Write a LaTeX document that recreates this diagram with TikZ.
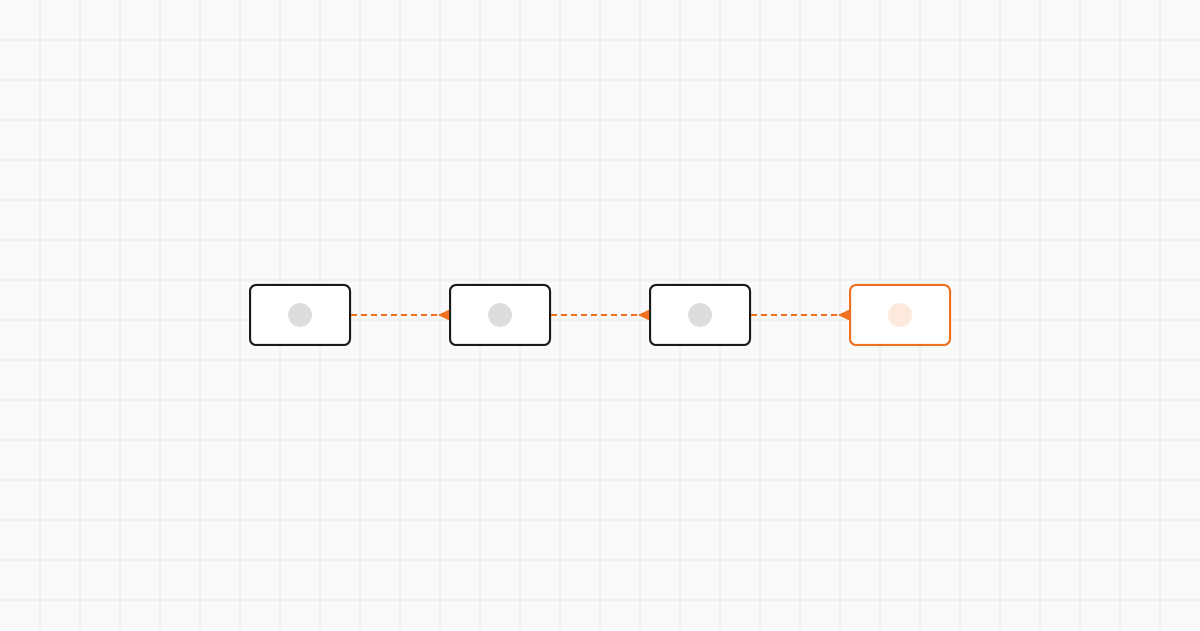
\documentclass[tikz,border=0pt]{standalone}
\usetikzlibrary{arrows.meta}
\definecolor{bg}{HTML}{F9F9F9}
\definecolor{gridc}{HTML}{F0F0F0}
\definecolor{ink}{HTML}{1A1A1A}
\definecolor{accent}{HTML}{F07020}
\definecolor{dotgray}{HTML}{DDDDDD}
\definecolor{dotorange}{HTML}{FDE8DC}
\begin{document}
\begin{tikzpicture}[x=1pt,y=1pt,
  box/.style={draw=ink,line width=2pt,fill=white,rounded corners=6pt,minimum width=100pt,minimum height=60pt,inner sep=0pt},
  hotbox/.style={box,draw=accent},
  dot/.style={circle,fill=dotgray,minimum size=24pt,inner sep=0pt},
  hotdot/.style={dot,fill=dotorange},
  link/.style={draw=accent,line width=2pt,dash pattern=on 6pt off 4pt,-{Triangle[reversed,length=11pt,width=10pt]}}]
\fill[bg] (0,0) rectangle (1200,630);
\useasboundingbox (0,0) rectangle (1200,630);
\foreach \i in {1,...,29} \draw[gridc,line width=1.5pt] (\i*40,0) -- (\i*40,630);
\foreach \j in {1,...,15} \draw[gridc,line width=1.5pt] (0,630-\j*40) -- (1200,630-\j*40);
\node[box] (b1) at (300,315) {};
\node[box] (b2) at (500,315) {};
\node[box] (b3) at (700,315) {};
\node[hotbox] (b4) at (900,315) {};
\node[dot] (d1) at (b1) {};
\node[dot] (d2) at (b2) {};
\node[dot] (d3) at (b3) {};
\node[hotdot] (d4) at (b4) {};
\draw[link] (b1.east) -- (b2.west);
\draw[link] (b2.east) -- (b3.west);
\draw[link] (b3.east) -- (b4.west);
\end{tikzpicture}
\end{document}
